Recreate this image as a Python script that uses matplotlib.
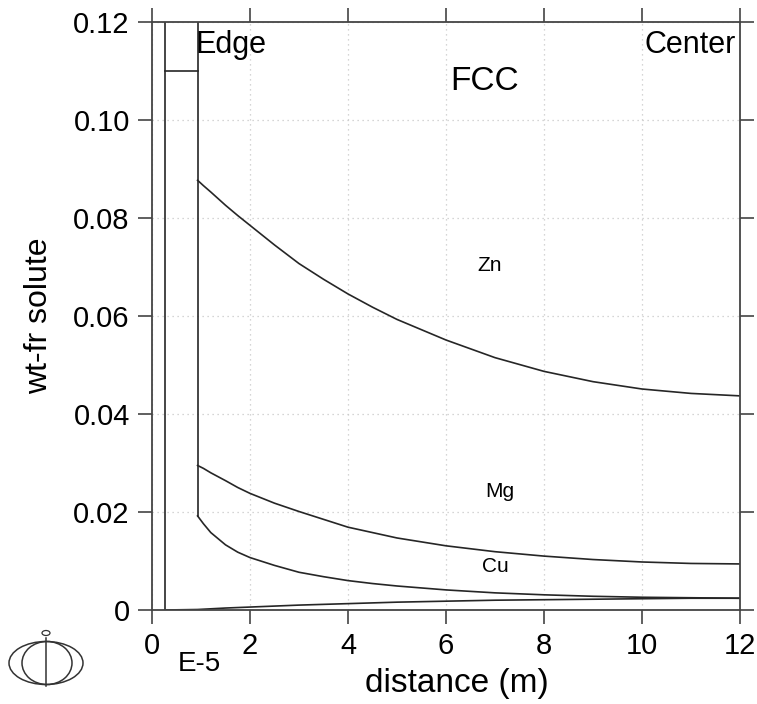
import matplotlib
matplotlib.use("Agg")
import matplotlib.pyplot as plt
from matplotlib.patches import Ellipse
from matplotlib.lines import Line2D

plt.rcParams['font.family'] = ['Liberation Sans', 'DejaVu Sans']

# ---- data ----
dist = [0.93, 1.05, 1.2, 1.5, 1.75, 2, 2.5, 3, 3.5, 4, 4.5, 5, 6, 7, 8, 9, 10, 11, 12]
zn = [0.0877, 0.0866, 0.0853, 0.0826, 0.0805, 0.0785, 0.0745, 0.0707, 0.0675,
      0.0645, 0.0618, 0.0593, 0.0551, 0.0515, 0.0487, 0.0466, 0.0451, 0.0442, 0.0437]
mg = [0.0295, 0.0289, 0.0280, 0.0264, 0.0250, 0.0238, 0.0218, 0.0201, 0.0185,
      0.0169, 0.0158, 0.0147, 0.0131, 0.0119, 0.0110, 0.0103, 0.0098, 0.0095, 0.0094]
cu = [0.0192, 0.0176, 0.0158, 0.0133, 0.0118, 0.0107, 0.0091, 0.0077, 0.0068,
      0.0060, 0.0054, 0.0049, 0.0041, 0.0035, 0.0031, 0.0028, 0.0026, 0.0025, 0.0024]
dist_minor = [0.26, 0.93, 1.5, 2, 3, 4, 5, 6, 7, 8, 9, 10, 11, 12]
minor = [0.0, 0.0001, 0.0004, 0.0006, 0.0010, 0.0013, 0.0016, 0.0018, 0.0020,
         0.0021, 0.0022, 0.0023, 0.0024, 0.0024]
# second-phase layer at the edge
layer_x = [0.26, 0.93]
layer_value = 0.11
interface_top = 0.12

xticks = [0, 2, 4, 6, 8, 10, 12]
yticks = [0, 0.02, 0.04, 0.06, 0.08, 0.10, 0.12]
ytick_labels = ['0', '0.02', '0.04', '0.06', '0.08', '0.10', '0.12']
xtick_labels = ['0', '2', '4', '6', '8', '10', '12']

W, H = 757, 704
fig = plt.figure(figsize=(W / 100, H / 100), dpi=100)
ax = fig.add_axes([152 / W, 1 - 610 / H, 588 / W, 588 / H])

lc = '#262626'
lw = 1.2
ax.plot(dist, zn, color=lc, lw=lw)
ax.plot(dist, mg, color=lc, lw=lw)
ax.plot(dist, cu, color=lc, lw=lw)
ax.plot(dist_minor, minor, color=lc, lw=lw)
# layer boundaries
ax.plot([layer_x[0], layer_x[0]], [0, interface_top], color=lc, lw=lw)
ax.plot([layer_x[1], layer_x[1]], [interface_top, cu[0]], color=lc, lw=lw)
ax.plot(layer_x, [layer_value, layer_value], color=lc, lw=lw)

ax.set_xlim(0, 12)
ax.set_ylim(0, 0.12)
ax.set_xticks(xticks)
ax.set_xticklabels(xtick_labels)
ax.set_yticks(yticks)
ax.set_yticklabels(ytick_labels)
ax.grid(True, color='#c8c8c8', linestyle=(0, (1, 3)), linewidth=0.9)
ax.tick_params(direction='out', length=10, width=1.2, color='#444444',
               labelsize=21, top=True, right=True, pad=6)
for s in ax.spines.values():
    s.set_color('#444444')
    s.set_linewidth(1.3)

ax.set_xlabel('distance (m)', fontsize=24)
ax.set_ylabel('wt-fr solute', fontsize=23)
ax.xaxis.set_label_coords((457 - 152) / 588, -(668 - 610) / 588)
ax.yaxis.set_label_coords((54 - 152) / 588, 0.5)

ax.text(6.9, 0.0703, 'Zn', fontsize=15, ha='center', va='center')
ax.text(7.1, 0.0242, 'Mg', fontsize=15, ha='center', va='center')
ax.text(7.0, 0.0088, 'Cu', fontsize=15, ha='center', va='center')
ax.text(0.88, 0.1153, 'Edge', fontsize=22, ha='left', va='center')
ax.text(11.92, 0.1153, 'Center', fontsize=22, ha='right', va='center')
ax.text(6.78, 0.1078, 'FCC', fontsize=24, ha='center', va='center')

fig.text(199 / W, 1 - 664 / H, 'E-5', fontsize=20, ha='center', va='center')

# logo
def px(x, y):
    return (x / W, 1 - y / H)

ec = '#333333'
fig.add_artist(Ellipse(px(46, 663), 74 / W, 43 / H, transform=fig.transFigure,
                       fill=False, ec=ec, lw=1.1))
fig.add_artist(Ellipse(px(47, 663), 50 / W, 43 / H, transform=fig.transFigure,
                       fill=False, ec=ec, lw=1.1))
fig.add_artist(Line2D([46 / W, 46 / W], [1 - 638 / H, 1 - 686 / H],
                      transform=fig.transFigure, color=ec, lw=1.1))
fig.add_artist(Ellipse(px(46, 633), 8 / W, 5 / H, transform=fig.transFigure,
                       fill=False, ec=ec, lw=0.9))

fig.savefig('out.png', dpi=100)
